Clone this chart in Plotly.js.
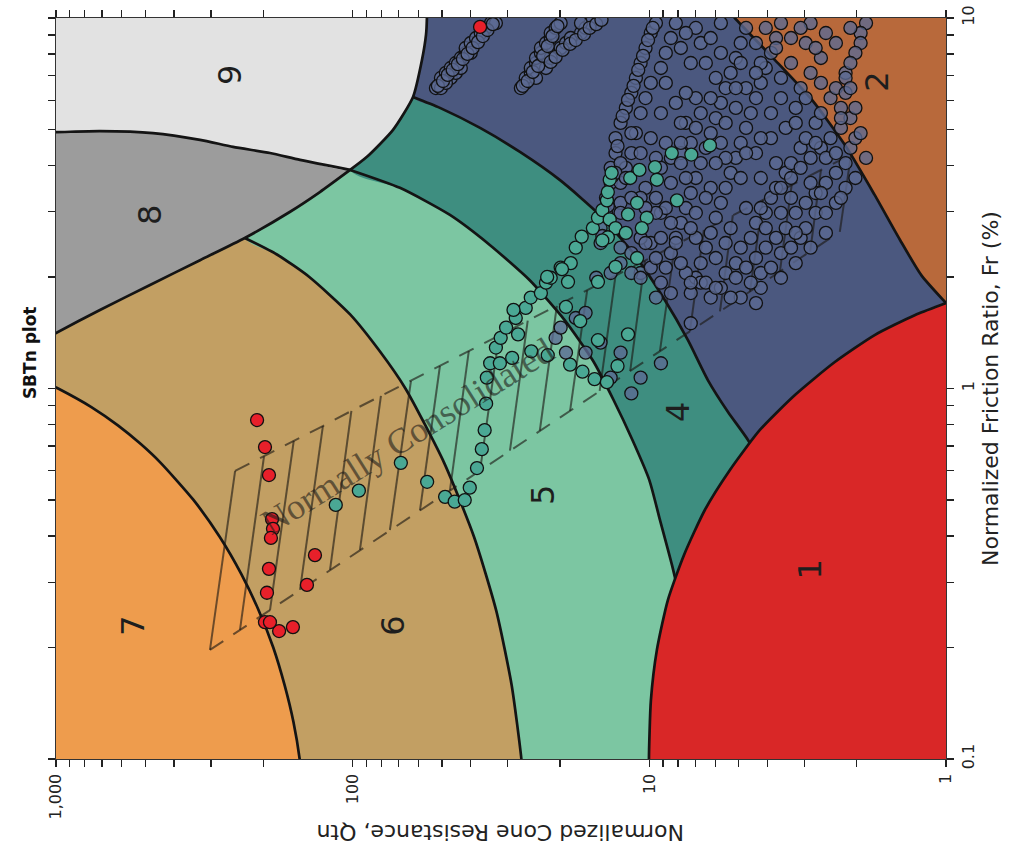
<!DOCTYPE html>
<html>
<head>
<meta charset="utf-8">
<script src="https://cdn.plot.ly/plotly-3.0.1.min.js"></script>
<style>
  html, body { margin: 0; padding: 0; background: #ffffff; }
  #chart { width: 1011px; height: 865px; }
</style>
</head>
<body>
<div id="chart"></div>
<script>
// ---- Axis ticks -------------------------------------------------------
const qTickVals = [1,2,3,4,5,6,7,8,9,10,20,30,40,50,60,70,80,90,100,200,300,400,500,600,700,800,900,1000];
const qTickText = ['1','','','','','','','','','10','','','','','','','','','100','','','','','','','','','1,000'];
const frTickVals = [0.1,0.2,0.3,0.4,0.5,0.6,0.7,0.8,0.9,1,2,3,4,5,6,7,8,9,10];
const frTickText = ['0.1','','','','','','','','','1','','','','','','','','','10'];

// ---- Zone boundaries (Qtn, Fr) ----------------------------------------
const b76Q  = [1115, 1000, 983.5, 760, 617, 517.8, 444.6, 344.6, 280.8, 237.5, 207, 185.2, 169.5, 158.4, 150.9, 149];
const b76Fr = [1.047, 1.0065, 1.0, 0.891, 0.794, 0.708, 0.631, 0.501, 0.398, 0.316, 0.251, 0.2, 0.158, 0.126, 0.1, 0.09];
const b65Q  = [231, 180, 140, 102, 81, 66.4, 49.2, 39.0, 32.8, 29.1, 27.0, 26.8];
const b65Fr = [2.548, 2.3, 2.0, 1.585, 1.26, 1.0, 0.631, 0.398, 0.251, 0.158, 0.1, 0.09];
const b54Q  = [102, 69.3, 47.0, 34.5, 25.3, 19.3, 15.5, 13.2, 11.4, 10.0, 9.21, 8.39, 7.59];
const b54Fr = [3.89, 3.48, 2.94, 2.44, 1.96, 1.53, 1.19, 0.931, 0.726, 0.566, 0.442, 0.334, 0.237];
const b43Q  = [62.6, 50.8, 37.2, 27.3, 20.0, 14.7, 11.2, 8.86, 7.41, 6.35, 5.43, 4.65, 3.92];
const b43Fr = [6.12, 5.72, 5.05, 4.35, 3.65, 2.94, 2.29, 1.73, 1.35, 1.054, 0.864, 0.726, 0.566];
const b32Q  = [5.56, 5.15, 3.77, 2.83, 2.19, 1.74, 1.43, 1.21, 1.0, 0.898];
const b32Fr = [10.8, 10, 7.70, 6.01, 4.54, 3.33, 2.52, 2.02, 1.70, 1.55];
const b1Q   = [10, 10.03, 9.88, 9.43, 8.66, 7.64, 6.50, 5.35, 4.24, 3.23, 2.37, 1.74, 1.27, 1.0, 0.864];
const b1Fr  = [0.0906, 0.1, 0.144, 0.197, 0.2686, 0.3554, 0.470, 0.6026, 0.7727, 0.9605, 1.179, 1.394, 1.579, 1.70, 1.777];
const b8Q   = [1132, 1000, 711, 482, 327, 231, 163, 129, 102];
const b8Fr  = [1.335, 1.412, 1.629, 1.903, 2.22, 2.548, 2.995, 3.39, 3.89];
const b89Q  = [1132, 1000, 711, 471, 327, 253, 190, 150.5, 102];
const b89Fr = [4.92, 4.92, 4.95, 4.89, 4.69, 4.49, 4.32, 4.14, 3.89];
const b9Q   = [102, 89.5, 73.1, 62.6, 58.4, 56.6, 56.2, 56.2];
const b9Fr  = [3.89, 4.22, 4.99, 6.12, 7.70, 9.00, 10, 10.8];

// ---- Normally consolidated band (lower edge / upper edge stations) -----
const ncLowQ  = [302.7, 239.8, 190, 150.5, 119.2, 94.5, 74.9, 59.3, 47.0, 37.2, 29.5, 23.4, 18.5, 14.7, 11.6, 9.21, 7.30, 5.78, 4.58, 3.63, 2.87, 2.28];
const ncLowFr = [0.197, 0.223, 0.252, 0.286, 0.324, 0.367, 0.415, 0.469, 0.531, 0.601, 0.680, 0.769, 0.870, 0.985, 1.115, 1.261, 1.427, 1.615, 1.827, 2.068, 2.34, 2.648];
const ncUpQ   = [249, 199, 158, 126, 101, 80.3, 63.6, 50.8, 40.6, 32.1, 25.7, 20.5, 16.2, 13.0, 10.35, 8.20, 6.55, 5.23, 4.14, 3.31, 2.64, 2.09];
const ncUpFr  = [0.599, 0.656, 0.722, 0.792, 0.870, 0.955, 1.048, 1.15, 1.262, 1.389, 1.524, 1.670, 1.840, 2.018, 2.214, 2.439, 2.678, 2.935, 3.228, 3.555, 3.888, 4.279];

// ---- Zone labels -------------------------------------------------------
const zoneLabels  = ['1', '2', '4', '5', '6', '7', '8', '9'];
const zoneLabelQ  = [2.88, 1.71, 8.01, 22.8, 73.1, 550, 482, 259];
const zoneLabelFr = [0.324, 6.72, 0.864, 0.516, 0.229, 0.229, 2.94, 7.02];

// ---- CPT data points ---------------------------------------------------
const redQ  = [210, 197.5, 191.5, 187, 185.6, 188.6, 134, 191.5, 142.6, 194.5, 197.5, 177, 159, 190, 37.2];
const redFr = [0.822, 0.695, 0.584, 0.444, 0.418, 0.395, 0.355, 0.326, 0.295, 0.281, 0.234, 0.2215, 0.227, 0.234, 9.46];

const tealQ = [114, 95.3, 68.8, 56.1, 48.8, 45.3, 41.9, 40.3, 38.1, 36.7, 35.9, 35.5, 35.3, 34.4, 31.9, 29.0,
  32.9, 31.7, 30.4, 28.2, 26.1, 25.1, 23.2, 22.3, 21.5, 19.9, 18.4, 17.7, 16.9, 15.5, 14.9, 14.4, 13.9, 13.8,
  13.6, 13.4, 11.6, 10.8, 9.57, 9.43, 8.40, 7.22, 8.07, 13.6, 11.8, 11.0, 10.2, 10.6, 13.0, 12.0, 13.8, 14.4,
  11.0, 13.0, 18.8, 14.9, 22.1, 19.7, 6.25, 28.7, 27.7, 25.0, 22.0, 18.5, 16.8, 15.3, 13.9, 12.8, 11.8, 14.9,
  17.1, 19.1];
const tealFr = [0.485, 0.53, 0.63, 0.56, 0.51, 0.495, 0.50, 0.54, 0.61, 0.686, 0.772, 0.91, 1.07, 1.17, 1.17, 1.21,
  1.29, 1.37, 1.46, 1.55, 1.65, 1.76, 1.81, 1.93, 1.99, 2.12, 2.18, 2.40, 2.57, 2.71, 2.89, 3.03, 3.22, 3.39,
  3.66, 3.82, 3.70, 3.89, 3.96, 3.66, 4.32, 4.28, 3.22, 2.86, 2.95, 3.17, 2.89, 2.71, 2.71, 2.63, 2.56, 2.51,
  2.25, 2.13, 1.94, 1.94, 2.00, 2.10, 4.53, 1.63, 1.40, 1.26, 1.23, 1.16, 1.11, 1.06, 1.04, 1.15, 1.40, 1.35,
  1.52, 1.66];

const navyQ = [
  52.4, 50.4, 48.5, 46.7, 44.9, 43.2, 41.6, 41.6, 40.0, 38.4, 37.0, 35.6, 34.2, 50.4, 46.7, 44.9, 48.5, 43.2, 40.0, 32.9,
  51.6, 49.6, 47.8, 46.0, 44.2, 42.5, 41.0, 39.4, 37.8, 36.4, 35.1, 33.7,
  27.1, 26.1, 26.1, 25.1, 25.1, 24.1, 24.1, 23.2, 23.2, 22.3, 21.5, 21.5, 20.7, 19.9, 24.1, 22.3, 21.5, 19.9, 19.1, 18.4, 17.0, 16.4, 15.8, 17.0,
  26.7, 25.7, 24.7, 23.7, 22.8, 22.0, 21.2, 20.4, 21.5, 20.7, 19.6, 18.5, 17.7, 16.6, 15.9, 15.1, 14.5,
  14.6, 14.6, 14.0, 14.0, 13.5, 13.5, 13.0, 13.0, 12.5, 12.0, 11.5, 11.1, 10.7, 10.3, 9.89, 9.50, 12.5, 12.0, 11.5, 11.1, 10.7, 10.3, 9.89, 9.14, 8.80, 8.46, 8.14,
  14.4, 13.8, 13.3, 12.8, 12.3, 11.8, 11.3, 10.9, 10.5, 10.1, 9.74,
  9.50, 9.14, 8.80, 8.46, 8.14, 7.83, 7.53, 7.25, 6.97, 6.71, 6.45, 6.21, 5.97, 5.74, 5.53, 5.32, 5.11, 4.92, 4.72,
  7.25, 6.97, 6.71, 6.45, 6.21, 5.97, 5.74, 5.53, 5.32, 5.11, 4.92, 4.72, 4.55, 4.37, 4.21, 4.05, 3.89, 3.74, 3.60,
  5.74, 5.53, 5.11, 4.92, 4.55, 4.37, 4.05, 3.89, 3.74, 3.47, 3.33, 3.09, 2.97, 2.75, 2.64, 2.45, 2.35, 2.18,
  4.72, 4.37, 4.05, 3.74, 3.47, 3.21, 2.97, 2.75, 2.54, 2.35, 2.18, 2.10, 2.02,
  4.21, 3.60, 3.33, 3.09, 2.86, 2.64, 2.45, 2.26, 2.10, 2.02,
  1.86, 1.94, 1.94, 2.02, 2.10, 2.18, 2.18, 2.26, 2.10, 2.26, 3.74,
  6.71, 6.21, 4.92, 4.21, 3.60, 3.21, 2.86, 2.54, 2.75, 3.09, 3.60, 2.35, 2.18, 2.54, 2.86, 3.33, 3.74, 4.21, 4.37, 3.89,
  3.47, 3.21, 3.60, 3.09, 2.86, 3.33, 2.64, 2.97, 2.54, 2.86, 5.97, 6.45, 6.97, 7.53, 7.83, 8.46, 9.14, 9.89, 10.7, 5.11,
  4.72, 4.21, 4.37, 4.05, 6.71, 7.25, 7.53, 6.97, 6.21, 5.53, 4.92, 4.72, 5.32, 5.53, 4.21,
  6.45, 5.32, 4.55, 3.89, 3.33, 2.97, 2.54, 2.26, 2.02, 1.86, 1.94, 3.60, 4.05, 3.21, 2.64, 2.35, 2.75, 3.21, 3.89, 4.72,
  4.21, 5.74, 5.53, 5.11, 6.21, 6.97, 7.25, 7.83, 8.14, 6.71, 5.97, 6.45, 6.97, 5.97, 5.11, 4.37, 7.53, 8.46, 8.46, 9.14,
  9.89, 3.33, 3.09, 2.75, 2.35, 2.10, 2.64, 2.97, 3.60, 4.37, 4.92, 5.74, 6.21, 5.74, 7.83, 7.53, 8.80, 9.14, 9.89, 9.50,
  11.5, 10.7, 12.5, 13.0, 12.0, 8.80, 7.83, 8.46, 7.83, 7.53, 9.14, 10.3, 10.7, 12.5, 12.5, 11.5, 9.50, 8.80, 9.50, 10.3,
  10.7, 12.5, 11.5, 10.3, 8.14, 7.25, 9.50, 12.5, 13.5, 11.5, 15.1, 10.7, 7.25, 7.83, 6.97,
  20.7, 19.9, 17.7, 16.4, 14.6, 16.4, 19.1, 12.5, 13.5, 10.7, 9.14, 7.25, 11.5, 5.97];
const navyFr = [
  6.47, 6.89, 7.11, 7.33, 7.56, 7.80, 8.05, 8.30, 8.56, 8.83, 9.11, 9.40, 9.69, 6.47, 6.89, 7.11, 6.68, 7.33, 8.05, 9.69,
  6.56, 6.76, 7.02, 7.24, 7.51, 7.75, 8.00, 8.30, 8.61, 8.94, 9.28, 9.63,
  6.47, 6.68, 6.89, 7.11, 7.33, 7.56, 7.80, 8.05, 8.30, 8.56, 8.83, 9.11, 9.40, 9.69, 6.89, 7.33, 7.80, 8.30, 8.56, 8.83, 9.11, 9.40, 9.69, 9.69,
  6.56, 6.76, 7.15, 7.42, 7.90, 8.40, 8.94, 9.51, 7.61, 7.85, 8.20, 8.51, 8.72, 9.05, 9.40, 9.63, 9.88,
  2.47, 2.71, 2.98, 3.27, 3.59, 3.94, 4.32, 4.74, 5.21, 5.72, 6.28, 6.89, 7.56, 8.30, 9.11, 9.69, 3.59, 3.94, 4.32, 4.89, 5.54, 6.08, 6.68, 7.33, 8.05, 8.83, 9.69,
  2.58, 3.11, 3.75, 4.51, 5.44, 6.01, 6.56, 7.24, 7.90, 8.72, 9.40,
  1.76, 1.93, 2.12, 2.32, 2.55, 2.80, 3.07, 3.37, 3.70, 4.06, 4.46, 4.89, 5.37, 5.90, 6.47, 7.11, 7.80, 8.56, 9.40,
  1.81, 1.99, 2.18, 2.40, 2.63, 2.89, 3.17, 3.48, 3.82, 4.19, 4.60, 5.05, 5.54, 6.08, 6.68, 7.33, 8.05, 8.83, 9.69,
  1.87, 2.05, 2.18, 2.40, 2.55, 2.80, 2.98, 3.27, 3.48, 3.82, 4.06, 4.46, 4.74, 5.21, 5.54, 6.08, 6.47, 7.11,
  2.12, 2.25, 2.40, 2.55, 2.71, 2.98, 3.17, 3.37, 3.59, 3.82, 4.06, 4.46, 4.74,
  3.07, 3.48, 3.70, 3.94, 4.19, 4.46, 4.74, 5.05, 5.37, 5.72,
  9.69, 9.11, 8.56, 8.05, 7.56, 6.89, 6.28, 5.72, 6.47, 5.37, 8.30,
  1.93, 1.76, 1.76, 1.87, 1.99, 2.18, 2.40, 2.63, 2.98, 2.55, 2.32, 3.17, 3.48, 4.19, 3.59, 3.27, 4.06, 3.70, 4.32, 4.74,
  5.05, 5.72, 6.08, 6.47, 7.11, 7.56, 7.80, 8.56, 9.11, 9.69, 6.89, 7.56, 6.08, 5.21, 4.32, 3.59, 2.98, 2.47, 2.05, 5.72,
  6.47, 7.56, 8.56, 9.40, 8.56, 7.56, 6.28, 9.40, 3.48, 4.19, 3.70, 3.07, 2.71, 2.47, 2.05,
  1.93, 1.76, 1.93, 2.12, 2.40, 2.71, 2.98, 3.27, 3.70, 4.19, 4.89, 2.98, 2.71, 2.63, 3.37, 4.32, 4.60, 5.21, 5.54, 4.32,
  4.74, 4.60, 5.21, 6.47, 6.08, 5.05, 4.60, 5.21, 5.90, 5.54, 4.06, 3.27, 2.55, 2.25, 1.99, 1.70, 2.05, 1.81, 2.80, 2.55,
  2.12, 8.83, 9.40, 8.30, 8.56, 9.40, 6.68, 6.08, 6.89, 7.11, 7.56, 8.05, 8.83, 9.69, 8.30, 9.11, 6.68, 5.54, 4.74, 4.19,
  4.89, 4.32, 4.06, 3.82, 3.70, 4.60, 4.60, 4.19, 4.06, 3.70, 3.94, 3.48, 3.27, 3.17, 2.98, 3.27, 3.27, 3.07, 2.98, 3.07,
  2.55, 2.40, 2.32, 2.47, 2.47, 2.71, 2.25, 2.18, 2.05, 2.05, 1.99, 1.99, 1.93, 2.18, 2.98,
  1.37, 1.46, 1.55, 1.60, 1.33, 1.25, 1.25, 1.25, 1.07, 1.07, 1.17, 1.50, 0.97, 1.87];

// ---- Styling -----------------------------------------------------------
const zoneColors = {
  1: '#d92727', 2: '#b8693b', 3: '#4b587f', 4: '#3e8e80', 5: '#7cc6a2',
  6: '#c29f63', 7: '#ee9c4d', 8: '#9c9c9c', 9: '#e2e2e2'
};
// polygon corners placed well outside the visible ranges
const FQ_HI = 3000, FQ_LO = 0.3, FF_HI = 30, FF_LO = 0.03;

function fillPoly(q, fr, color) {
  return { x: q, y: fr, type: 'scatter', mode: 'lines', fill: 'toself', fillcolor: color,
           line: { width: 0, shape: 'spline', smoothing: 0.6 }, hoverinfo: 'skip' };
}
function edgeLine(q, fr) {
  return { x: q, y: fr, type: 'scatter', mode: 'lines',
           line: { color: '#141414', width: 2.7, shape: 'spline', smoothing: 0.6 }, hoverinfo: 'skip' };
}
// region on the low-Qtn / low-Fr side of an arc running from top/left to bottom/right
function insideArc(q, fr) {
  const n = q.length;
  return [
    [FQ_HI, q[0]].concat(q, [q[n - 1], FQ_HI]),
    [FF_HI, FF_HI].concat(fr, [FF_LO, FF_LO])
  ];
}
const rev = a => a.slice().reverse();

const traces = [];
let p;
p = insideArc(b32Q, b32Fr); traces.push(fillPoly(p[0], p[1], zoneColors[3]));
p = insideArc(b43Q, b43Fr); traces.push(fillPoly(p[0], p[1], zoneColors[4]));
p = insideArc(b54Q, b54Fr); traces.push(fillPoly(p[0], p[1], zoneColors[5]));
p = insideArc(b65Q, b65Fr); traces.push(fillPoly(p[0], p[1], zoneColors[6]));
p = insideArc(b76Q, b76Fr); traces.push(fillPoly(p[0], p[1], zoneColors[7]));
// zone 8: between the 8|9 line and the lower zone 8 line
traces.push(fillPoly(b89Q.concat(rev(b8Q).slice(1)), b89Fr.concat(rev(b8Fr).slice(1)), zoneColors[8]));
// zone 9: top-left corner
traces.push(fillPoly(
  [FQ_HI, b9Q[b9Q.length - 1]].concat(rev(b9Q), rev(b89Q).slice(1), [FQ_HI]),
  [FF_HI, FF_HI].concat(rev(b9Fr), rev(b89Fr).slice(1), [b89Fr[0]]),
  zoneColors[9]));

[[b76Q, b76Fr], [b65Q, b65Fr], [b54Q, b54Fr], [b43Q, b43Fr], [b32Q, b32Fr],
 [b8Q, b8Fr], [b89Q, b89Fr], [b9Q, b9Fr]].forEach(b => traces.push(edgeLine(b[0], b[1])));

// zone 1 on top of the arcs it cuts off
traces.push(fillPoly(b1Q.concat([FQ_LO, FQ_LO, b1Q[0]]), b1Fr.concat([b1Fr[b1Fr.length - 1], FF_LO, FF_LO]), zoneColors[1]));
traces.push(edgeLine(b1Q, b1Fr));

// normally consolidated hatching
const hatchX = [], hatchY = [];
for (let i = 0; i < ncLowQ.length; i++) {
  hatchX.push(ncLowQ[i], ncUpQ[i], null);
  hatchY.push(ncLowFr[i], ncUpFr[i], null);
}
const hatchLine = { color: 'rgba(28,24,20,0.62)', width: 2 };
traces.push({ x: hatchX, y: hatchY, type: 'scatter', mode: 'lines', line: hatchLine, connectgaps: false, hoverinfo: 'skip' });
traces.push({ x: ncLowQ, y: ncLowFr, type: 'scatter', mode: 'lines', line: Object.assign({ dash: '16px,12px' }, hatchLine), hoverinfo: 'skip' });
traces.push({ x: ncUpQ, y: ncUpFr, type: 'scatter', mode: 'lines', line: Object.assign({ dash: '16px,12px' }, hatchLine), hoverinfo: 'skip' });

// CPT soundings
const mk = (color) => ({ size: 13, color: color, line: { color: '#111111', width: 1.3 } });
traces.push({ x: navyQ, y: navyFr, type: 'scatter', mode: 'markers', marker: mk('rgba(92,106,148,0.78)'), name: 'CPT-3' });
traces.push({ x: tealQ, y: tealFr, type: 'scatter', mode: 'markers', marker: mk('#4aa894'), name: 'CPT-2' });
traces.push({ x: redQ, y: redFr, type: 'scatter', mode: 'markers', marker: mk('#e8202a'), name: 'CPT-1' });

// ---- Annotations -------------------------------------------------------
const annotations = zoneLabels.map((t, i) => ({
  x: Math.log10(zoneLabelQ[i]), y: Math.log10(zoneLabelFr[i]), xref: 'x', yref: 'y',
  text: t, showarrow: false, textangle: -90,
  font: { family: 'DejaVu Sans', size: 32, color: '#1e1e1e' }
}));
annotations.push({
  x: Math.log10(65.1), y: Math.log10(0.744), xref: 'x', yref: 'y',
  text: 'Normally Consolidated', showarrow: false, textangle: -32,
  font: { family: 'Liberation Serif', size: 36, color: 'rgba(30,28,25,0.6)' }
});
annotations.push({
  x: 0.5, y: -0.1, xref: 'paper', yref: 'paper', xanchor: 'center', yanchor: 'middle',
  text: 'Normalized Cone Resistance, Qtn', showarrow: false, textangle: 180,
  font: { family: 'DejaVu Sans', size: 22, color: '#222' }
});
annotations.push({
  x: -0.029, y: 0.548, xref: 'paper', yref: 'paper', xanchor: 'center', yanchor: 'middle',
  text: '<b>SBTn plot</b>', showarrow: false, textangle: -90,
  font: { family: 'DejaVu Sans', size: 17, color: '#111' }
});

const axisCommon = {
  type: 'log', ticks: 'outside', ticklen: 7, tickwidth: 1.3, tickcolor: '#222',
  showline: true, linecolor: '#333', linewidth: 1.3, mirror: 'ticks',
  showgrid: false, zeroline: false, tickangle: -90,
  tickfont: { family: 'DejaVu Sans', size: 16, color: '#222' }
};

const layout = {
  width: 1011, height: 865,
  margin: { l: 56, r: 65, t: 18, b: 106 },
  paper_bgcolor: '#ffffff', plot_bgcolor: zoneColors[2],
  showlegend: false,
  xaxis: Object.assign({}, axisCommon, {
    range: [3, 0], autorange: false, tickvals: qTickVals, ticktext: qTickText
  }),
  yaxis: Object.assign({}, axisCommon, {
    range: [-1, 1], autorange: false, side: 'right', tickvals: frTickVals, ticktext: frTickText,
    title: { text: 'Normalized Friction Ratio, Fr (%)', font: { family: 'DejaVu Sans', size: 22, color: '#222' }, standoff: 6 }
  }),
  annotations: annotations
};

Plotly.newPlot('chart', traces, layout, { displayModeBar: false, staticPlot: true });
</script>
</body>
</html>
